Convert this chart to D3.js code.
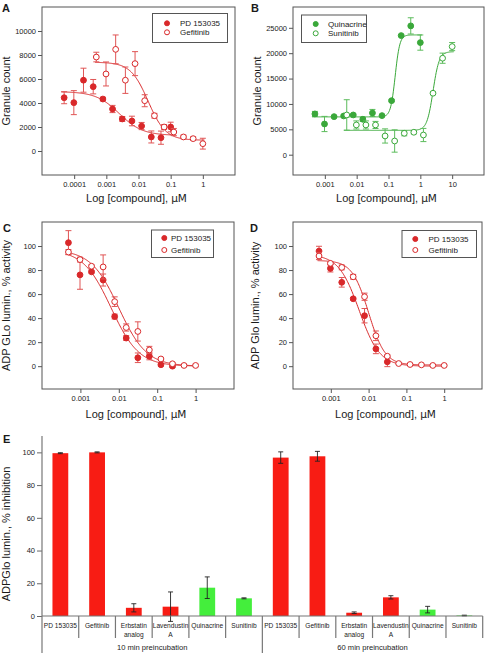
<!DOCTYPE html>
<html><head><meta charset="utf-8">
<script src="https://cdn.jsdelivr.net/npm/d3@7"></script>
<style>body{margin:0;background:#fff}svg{display:block}text{font-family:"Liberation Sans",Arial,sans-serif;fill:#1a1a1a}</style>
</head><body><svg id="c" width="486" height="655"></svg>
<script>
// ---------- Panel A (granule count) ----------
const aPdConc = [0.0000488,0.0000977,0.000195,0.000391,0.000781,0.00156,0.00313,0.00625,0.0125,0.025,0.05,0.1];
const aPdVal  = [4440,4030,5900,5360,4330,3500,2670,2500,2080,1170,1110,2000];
const aPdErr  = [500,1000,1000,600,150,300,200,400,300,500,550,400];
const aGefConc = [0.000488,0.000977,0.00195,0.00391,0.00781,0.0156,0.0313,0.0625,0.125,0.25,0.5,1];
const aGefVal  = [7830,6420,8470,5900,7280,4190,2940,2000,1580,1170,1030,610];
const aGefErr  = [400,1000,1200,1100,1000,500,200,200,300,150,150,450];
// fit: [left plateau, right plateau, logEC50, hill]
const aPdFit = [4950,1300,-2.6,1.2];
const aGefFit = [7400,900,-1.7,1.6];
const aXTicks = [0.0001,0.001,0.01,0.1,1];
const aXLabels = ["0.0001","0.001","0.01","0.1","1"];
const aYTicks = [0,2000,4000,6000,8000,10000];

// ---------- Panel B ----------
const bQuiConc = [0.000488,0.000977,0.00195,0.00391,0.00781,0.0156,0.0313,0.0625,0.125,0.25,0.5,1];
const bQuiVal  = [8030,6050,7500,7630,7830,6980,8220,7700,10650,23470,25380,22090];
const bQuiErr  = [500,1500,200,200,200,400,700,200,200,200,1600,1500];
const bSunConc = [0.00488,0.00977,0.0195,0.0391,0.0781,0.156,0.313,0.625,1.25,2.5,5,10];
const bSunVal  = [7830,5860,5860,5860,3690,2700,4220,4420,3880,12110,19010,21300];
const bSunErr  = [3000,800,800,700,1400,2200,500,300,1300,200,1000,800];
const bQuiFit = [7450,23600,-0.79,6];
const bSunFit = [4800,20300,0.4,4.5];
const bXTicks = [0.001,0.01,0.1,1,10];
const bXLabels = ["0.001","0.01","0.1","1","10"];
const bYTicks = [0,5000,10000,15000,20000,25000];

// ---------- Panel C ----------
const cPdConc = [0.000488,0.000977,0.00195,0.00391,0.00781,0.0156,0.0313,0.0625,0.125,0.25];
const cPdVal  = [102.8,76,78.5,71.7,41.3,23.4,7,8.3,1.2,0];
const cPdErr  = [10,12,1,5,2,2,4,3,1,1];
const cGefConc = [0.000488,0.000977,0.00195,0.00391,0.00781,0.0156,0.0313,0.0625,0.125,0.25,0.5,1];
const cGefVal  = [95,88.7,83.2,82.6,53.7,32.2,28.9,13.5,6,2,0.6,0.6];
const cGefErr  = [2,2,1,10,4,3,8,3,1,1,1,1];
const cPdFit = [97,0,-2.2,1.2];
const cGefFit = [97,0,-2.0,1.2];

// ---------- Panel D ----------
const dPdConc = [0.000488,0.000977,0.00195,0.00391,0.00781,0.0156,0.0313];
const dPdVal  = [95.8,81.4,69.8,56.1,42,14.4,3.6];
const dPdErr  = [4,3,4,1,6,4,4];
const dGefConc = [0.000488,0.000977,0.00195,0.00391,0.00781,0.0156,0.0313,0.0625,0.125,0.25,0.5,1];
const dGefVal  = [91.7,85.6,82.2,74.4,57.8,25.3,8.3,2.2,1.4,1.1,0.6,0.6];
const dGefErr  = [3,1,2,2,3,4,1,0.5,0.5,0.5,0.5,0.5];
const dPdFit = [93,0,-2.25,1.6];
const dGefFit = [88,1,-2.0,2.0];
const cdXTicks = [0.001,0.01,0.1,1];
const cdXLabels = ["0.001","0.01","0.1","1"];
const cdYTicks = [0,20,40,60,80,100];

// ---------- Panel E ----------
const eCompounds = ["PD 153035","Gefitinib","Erbstatin analog","Lavendustin A","Quinacrine","Sunitinib"];
const eCompoundLines = [["PD 153035"],["Gefitinib"],["Erbstatin","analog"],["Lavendustin","A"],["Quinacrine"],["Sunitinib"]];
const eGroups = ["10 min preincubation","60 min preincubation"];
const e10Val = [99.5,100,5,5.7,17.3,10.8];
const e10Err = [0.3,0.3,2.5,9,6.6,0.3];
const e60Val = [96.8,97.6,2,11.4,3.9,0.3];
const e60Err = [3.5,3,0.5,1,2,0.2];
const eColorKey = ["red","red","red","red","green","green"];
const eYTicks = [0,20,40,60,80,100];

const svg = d3.select("#c");
const RED = "#d9282a", RED_L = "#e05555", GREEN = "#3aa83a", GREEN_L = "#5cbc5c";

function fitY(p, lx){ return p[1] + (p[0]-p[1])/(1+Math.pow(10, p[3]*(lx-p[2]))); }

function panel(cfg){
  const g = svg.append("g");
  const x = d3.scaleLog().domain(cfg.xDom).range([cfg.x0,cfg.x1]);
  const y = d3.scaleLinear().domain(cfg.yDom).range([cfg.y1,cfg.y0]);
  g.append("rect").attr("x",cfg.x0).attr("y",cfg.y0).attr("width",cfg.x1-cfg.x0).attr("height",cfg.y1-cfg.y0)
    .attr("fill","none").attr("stroke","#555").attr("stroke-width",1);
  const xa = g.append("g").attr("transform",`translate(0,${cfg.y1})`)
    .call(d3.axisBottom(x).tickValues(cfg.xTicks).tickFormat((d,i)=>cfg.xLabels[i]).tickSize(4).tickPadding(3));
  const ya = g.append("g").attr("transform",`translate(${cfg.x0},0)`)
    .call(d3.axisLeft(y).tickValues(cfg.yTicks).tickFormat(d3.format("d")).tickSize(4).tickPadding(2));
  [xa,ya].forEach(a=>{a.select(".domain").remove();a.selectAll("line").attr("stroke","#555");
    a.selectAll("text").style("font-size","7.5px").attr("fill","#1a1a1a").style("font-family","'Liberation Sans',Arial,sans-serif");});
  cfg.series.forEach(s=>{
    const lxs = d3.range(0,201).map(i=>s.range[0]+(s.range[1]-s.range[0])*i/200);
    g.append("path").attr("d",d3.line().x(lx=>x(Math.pow(10,lx))).y(lx=>y(fitY(s.fit,lx)))(lxs))
      .attr("fill","none").attr("stroke",s.color).attr("stroke-width",1);
    s.conc.forEach((c,i)=>{
      const cx=x(c), v=s.val[i], e=s.err[i];
      g.append("line").attr("x1",cx).attr("x2",cx).attr("y1",y(v-e)).attr("y2",y(v+e)).attr("stroke",s.light).attr("stroke-width",1);
      [v-e,v+e].forEach(t=>g.append("line").attr("x1",cx-3).attr("x2",cx+3).attr("y1",y(t)).attr("y2",y(t)).attr("stroke",s.light).attr("stroke-width",1));
    });
    s.conc.forEach((c,i)=>{
      g.append("circle").attr("cx",x(c)).attr("cy",y(s.val[i])).attr("r",2.9)
        .attr("fill",s.filled?s.color:"#fff").attr("stroke",s.color).attr("stroke-width",1);
    });
  });
  const L = cfg.legend;
  g.append("rect").attr("x",L.x0).attr("y",L.y0).attr("width",L.x1-L.x0).attr("height",L.y1-L.y0)
    .attr("fill","#fff").attr("stroke","#555").attr("stroke-width",1);
  cfg.series.forEach((s,i)=>{
    g.append("circle").attr("cx",L.mx).attr("cy",L.ys[i]).attr("r",2.5)
      .attr("fill",s.filled?s.color:"#fff").attr("stroke",s.color).attr("stroke-width",1);
    g.append("text").attr("x",L.tx).attr("y",L.ys[i]+3).style("font-size","8px").text(s.name);
  });
  g.append("text").attr("x",cfg.lx).attr("y",cfg.ly).style("font-size","11px").style("font-weight","bold").text(cfg.letter);
  g.append("text").attr("transform",`translate(${cfg.ytx},${(cfg.y0+cfg.y1)/2}) rotate(-90)`)
    .attr("text-anchor","middle").style("font-size","11px").text(cfg.ytitle);
  const xt = g.append("text").attr("x",(cfg.x0+cfg.x1)/2 - 2).attr("y",cfg.xty).attr("text-anchor","middle").style("font-size","11px");
  xt.append("tspan").text("Log [compound], ");
  xt.append("tspan").style("font-family","'DejaVu Sans',sans-serif").style("font-size","10.5px").text("\u00b5M");
}

panel({x0:42,x1:235,y0:7,y1:175,xDom:[1e-5,10],yDom:[-2000,12000],xTicks:aXTicks,xLabels:aXLabels,yTicks:aYTicks,
  letter:"A",lx:2,ly:12,ytitle:"Granule count",ytx:10,xty:202,
  legend:{x0:152.5,x1:227.5,y0:13.5,y1:42.5,mx:167,tx:180,ys:[23.3,32.3]},
  series:[
    {name:"PD 153035",conc:aPdConc,val:aPdVal,err:aPdErr,fit:aPdFit,range:[-4.4,-0.95],filled:true,color:RED,light:RED_L},
    {name:"Gefitinib",conc:aGefConc,val:aGefVal,err:aGefErr,fit:aGefFit,range:[-3.35,0.05],filled:false,color:RED,light:RED_L}]});

panel({x0:293,x1:484,y0:7,y1:175,xDom:[1e-4,100],yDom:[-4000,29100],xTicks:bXTicks,xLabels:bXLabels,yTicks:bYTicks,
  letter:"B",lx:251,ly:12,ytitle:"Granule count",ytx:261,xty:202,
  legend:{x0:301.5,x1:366.5,y0:15,y1:42.5,mx:315.7,tx:328,ys:[24,33.3]},
  series:[
    {name:"Quinacrine",conc:bQuiConc,val:bQuiVal,err:bQuiErr,fit:bQuiFit,range:[-3.4,0.05],filled:true,color:GREEN,light:GREEN_L},
    {name:"Sunitinib",conc:bSunConc,val:bSunVal,err:bSunErr,fit:bSunFit,range:[-2.4,1.05],filled:false,color:GREEN,light:GREEN_L}]});

panel({x0:42,x1:234,y0:222,y1:389,xDom:[1e-4,10],yDom:[-19,120],xTicks:cdXTicks,xLabels:cdXLabels,yTicks:cdYTicks,
  letter:"C",lx:3,ly:232,ytitle:"ADP GLo lumin., % activity",ytx:10,xty:418,
  legend:{x0:151.5,x1:213.5,y0:230,y1:257.5,mx:164.3,tx:171,ys:[238,250]},
  series:[
    {name:"PD 153035",conc:cPdConc,val:cPdVal,err:cPdErr,fit:cPdFit,range:[-3.35,0.02],filled:true,color:RED,light:RED_L},
    {name:"Gefitinib",conc:cGefConc,val:cGefVal,err:cGefErr,fit:cGefFit,range:[-3.35,0.02],filled:false,color:RED,light:RED_L}]});

panel({x0:293,x1:482,y0:222,y1:389,xDom:[1e-4,10],yDom:[-19,120],xTicks:cdXTicks,xLabels:cdXLabels,yTicks:cdYTicks,
  letter:"D",lx:250,ly:232,ytitle:"ADP Glo lumin., % activity",ytx:259,xty:418,
  legend:{x0:402,x1:476.5,y0:230.5,y1:257.5,mx:415.3,tx:428.5,ys:[239,250]},
  series:[
    {name:"PD 153035",conc:dPdConc,val:dPdVal,err:dPdErr,fit:dPdFit,range:[-3.35,0.02],filled:true,color:RED,light:RED_L},
    {name:"Gefitinib",conc:dGefConc,val:dGefVal,err:dGefErr,fit:dGefFit,range:[-3.35,0.02],filled:false,color:RED,light:RED_L}]});

// ---------- Panel E bars ----------
(function(){
  const g = svg.append("g");
  const ex0=42, ex1=482.7, ey0=436, ey1=616;
  const cats = [];
  eGroups.forEach((gr,gi)=>eCompounds.forEach((c,ci)=>cats.push({key:gi+"-"+ci,gi,ci,
     val:gi===0?e10Val[ci]:e60Val[ci], err:gi===0?e10Err[ci]:e60Err[ci]})));
  const x = d3.scaleBand().domain(cats.map(d=>d.key)).range([ex0,ex1]).paddingInner(0.57).paddingOuter(0.285);
  const xs = d3.scaleBand().domain(cats.map(d=>d.key)).range([ex0,ex1]);
  const y = d3.scaleLinear().domain([0,110]).range([ey1,ey0]);
  const col = {red:"#f81c14",green:"#44ee3c"};
  cats.forEach(d=>{
    g.append("rect").attr("x",x(d.key)).attr("width",x.bandwidth()).attr("y",y(d.val)).attr("height",y(0)-y(d.val))
      .attr("fill",col[eColorKey[d.ci]]);
  });
  cats.forEach(d=>{
    const cx = x(d.key)+x.bandwidth()/2;
    g.append("line").attr("x1",cx).attr("x2",cx).attr("y1",y(d.val-d.err)).attr("y2",y(d.val+d.err)).attr("stroke","#222").attr("stroke-width",0.9);
    [d.val-d.err,d.val+d.err].forEach(t=>g.append("line").attr("x1",cx-2.5).attr("x2",cx+2.5).attr("y1",y(t)).attr("y2",y(t)).attr("stroke","#222").attr("stroke-width",0.9));
  });
  const ya = g.append("g").attr("transform",`translate(${ex0},0)`)
    .call(d3.axisLeft(y).tickValues(eYTicks).tickSize(5).tickPadding(2));
  ya.select(".domain").remove();
  ya.selectAll("line").attr("stroke","#666");
  ya.selectAll("text").style("font-size","7.5px").attr("fill","#1a1a1a");
  g.append("line").attr("x1",ex0).attr("x2",ex0).attr("y1",ey0).attr("y2",653).attr("stroke","#777").attr("stroke-width",1.2);
  g.append("line").attr("x1",ex0).attr("x2",ex1).attr("y1",ey1).attr("y2",ey1).attr("stroke","#777").attr("stroke-width",1.2);
  cats.forEach((d,i)=>{
    const bx = xs(d.key)+xs.bandwidth();
    const long = (i===5);
    g.append("line").attr("x1",bx).attr("x2",bx).attr("y1",ey1).attr("y2",long?653:638).attr("stroke","#777").attr("stroke-width",1.2);
    const cx = xs(d.key)+xs.bandwidth()/2;
    const lines = eCompoundLines[d.ci];
    lines.forEach((t,li)=>g.append("text").attr("x",cx).attr("y",628+li*8.5).attr("text-anchor","middle").style("font-size","6.6px").text(t));
  });
  eGroups.forEach((gr,gi)=>{
    const a = xs(gi+"-0"), b = xs(gi+"-5")+xs.bandwidth();
    g.append("text").attr("x",(a+b)/2).attr("y",650).attr("text-anchor","middle").style("font-size","7.6px").text(gr);
  });
  g.append("text").attr("x",3).attr("y",443).style("font-size","11px").style("font-weight","bold").text("E");
  g.append("text").attr("transform",`translate(10,${(ey0+ey1)/2+8}) rotate(-90)`).attr("text-anchor","middle")
    .style("font-size","11px").text("ADPGlo lumin., % inhibition");
})();
</script></body></html>
